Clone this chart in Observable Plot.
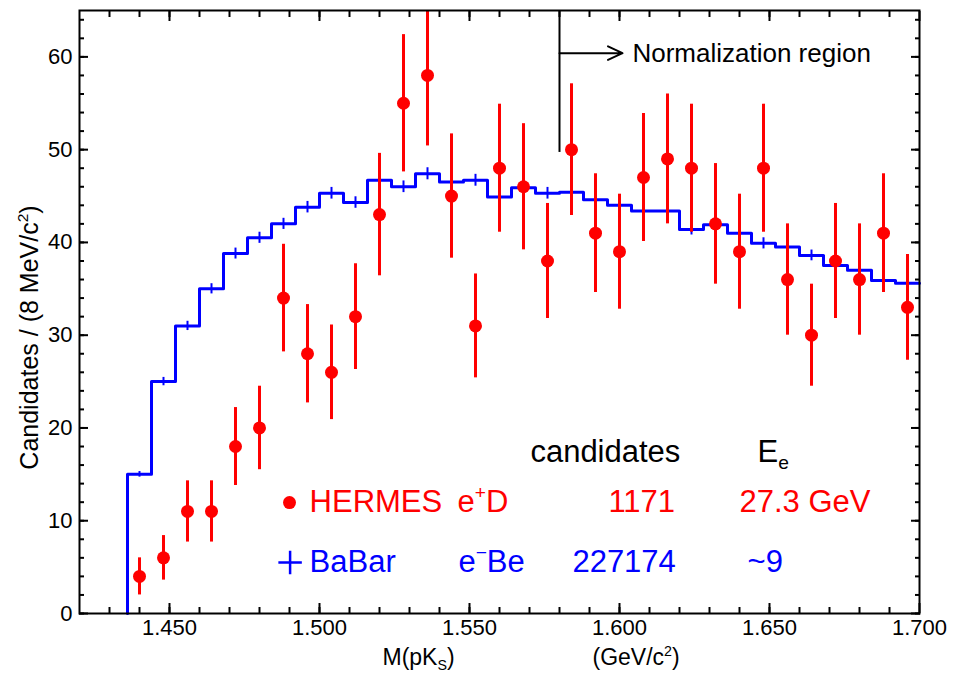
<!DOCTYPE html>
<html><head><meta charset="utf-8">
<script src="https://cdn.jsdelivr.net/npm/d3@7"></script>
<script src="https://cdn.jsdelivr.net/npm/@observablehq/plot@0.6"></script>
<style>html,body{margin:0;padding:0;background:#fff;} #chart{width:954px;height:674px;}</style>
</head><body><div id="chart"></div>
<script>
// ---- data ----
const massBins = [1.440, 1.448, 1.456, 1.464, 1.472, 1.480, 1.488, 1.496, 1.504, 1.512, 1.520,
  1.528, 1.536, 1.544, 1.552, 1.560, 1.568, 1.576, 1.584, 1.592, 1.600, 1.608, 1.616, 1.624,
  1.632, 1.640, 1.648, 1.656, 1.664, 1.672, 1.680, 1.688, 1.696];
const binWidth = 0.008;
const hermesCounts = [4, 6, 11, 11, 18, 20, 34, 28, 26, 32, 43, 55, 58, 45, 31, 48, 46, 38, 50, 41,
  39, 47, 49, 48, 42, 39, 48, 36, 30, 38, 36, 41, 33];
const hermesErrors = [2.0, 2.4, 3.3, 3.3, 4.2, 4.5, 5.8, 5.3, 5.1, 5.7, 6.6, 7.4, 7.6, 6.7, 5.6, 6.9,
  6.8, 6.2, 7.1, 6.4, 6.2, 6.9, 7.0, 6.9, 6.5, 6.2, 6.9, 6.0, 5.5, 6.2, 6.0, 6.4, 5.7];
const babarCounts = [15, 25, 31, 35, 38.8, 40.5, 42, 43.8, 45.3, 44.3, 46.7, 46, 47.4, 46.5, 46.7,
  44.9, 45.9, 45.3, 45.4, 44.6, 44, 43.4, 43.4, 41.4, 41.9, 41, 39.9, 39.5, 38.6, 37.5, 37, 35.9, 35.6];
const babarErrors = [0.3, 0.45, 0.5, 0.55, 0.59, 0.6, 0.6, 0.62, 0.63, 0.62, 0.64, 0.63, 0.65, 0.64,
  0.64, 0.63, 0.63, 0.63, 0.63, 0.62, 0.62, 0.62, 0.62, 0.6, 0.61, 0.6, 0.6, 0.59, 0.58, 0.58, 0.57, 0.56, 0.56];
const xMajorTicks = [1.45, 1.50, 1.55, 1.60, 1.65, 1.70];
const yMajorTicks = [0, 10, 20, 30, 40, 50, 60];
const xDomain = [1.42, 1.70];
const yDomain = [0, 65];
const legendHeaders = ["candidates", "E_{e}"];
const seriesNames = ["HERMES", "BaBar"];
const seriesBeams = ["e^{+}D", "e^{−}Be"];
const seriesCandidates = ["1171", "227174"];
const seriesEnergies = ["27.3 GeV", "~9"];
const normStart = 1.580;
const normLabel = "Normalization region";
const xTitle = ["M(pK_{S})", "(GeV/c^{2})"];
const yTitle = "Candidates / (8 MeV/c^{2})";

// ---- derived tables ----
const rows = massBins.map((m, i) => ({mass: m, hermes: hermesCounts[i], hErr: hermesErrors[i],
  babar: babarCounts[i], bErr: babarErrors[i]}));
const histLine = [{x: massBins[0] - binWidth / 2, y: 0}]
  .concat(rows.map(d => ({x: d.mass - binWidth / 2, y: d.babar})))
  .concat([{x: massBins[massBins.length - 1] + binWidth / 2, y: babarCounts[babarCounts.length - 1]}]);
const xMinorTicks = d3.range(143, 170).map(v => v / 100);
const yMinorTicks = d3.range(0, 66, 2);

const RED = "#ff0000", BLUE = "#0000ff";
const blank = () => "";
const T = (text, x, y, fill, fontSize, extra = {}) =>
  Plot.text([text], {x: () => x, y: () => y, text: d => d, fill, fontSize, textAnchor: "start",
    lineAnchor: "bottom", ...extra});

const chart = Plot.plot({
  width: 954, height: 674,
  marginLeft: 79, marginRight: 35, marginTop: 10, marginBottom: 61,
  style: {fontFamily: "'Liberation Sans', Arial, Helvetica, sans-serif", background: "#fff", color: "#000"},
  x: {domain: xDomain},
  y: {domain: yDomain},
  marks: [
    // axes with inward ticks
    Plot.axisX({anchor: "bottom", ticks: xMajorTicks, tickSize: -10, tickPadding: 16, strokeWidth: 2,
      tickFormat: d3.format(".3f"), fontSize: 22, letterSpacing: "0.6px", label: null}),
    Plot.axisX({anchor: "bottom", ticks: xMinorTicks, tickSize: -6, strokeWidth: 2, tickFormat: blank, label: null}),
    Plot.axisX({anchor: "top", ticks: xMajorTicks, tickSize: -10, strokeWidth: 2, tickFormat: blank, label: null}),
    Plot.axisX({anchor: "top", ticks: xMinorTicks, tickSize: -6, strokeWidth: 2, tickFormat: blank, label: null}),
    Plot.axisY({anchor: "left", ticks: yMajorTicks, tickSize: -9, tickPadding: 16, strokeWidth: 2,
      fontSize: 22, letterSpacing: "0.6px", label: null}),
    Plot.axisY({anchor: "left", ticks: yMinorTicks, tickSize: -5, strokeWidth: 2, tickFormat: blank, label: null}),
    Plot.axisY({anchor: "right", ticks: yMajorTicks, tickSize: -9, strokeWidth: 2, tickFormat: blank, label: null}),
    Plot.axisY({anchor: "right", ticks: yMinorTicks, tickSize: -5, strokeWidth: 2, tickFormat: blank, label: null}),
    // BaBar histogram
    Plot.line(histLine, {x: "x", y: "y", curve: "step-after", stroke: BLUE, strokeWidth: 3}),
    Plot.ruleX(rows, {x: "mass", y1: d => d.babar - d.bErr, y2: d => d.babar + d.bErr, stroke: BLUE, strokeWidth: 2}),
    // HERMES points
    Plot.ruleX(rows, {x: "mass", y1: d => d.hermes - d.hErr, y2: d => d.hermes + d.hErr, stroke: RED, strokeWidth: 3, clip: true}),
    Plot.dot(rows, {x: "mass", y: "hermes", r: 6.5, fill: RED}),
    // normalization region annotation
    Plot.ruleX([normStart], {y1: 49.7, y2: yDomain[1], stroke: "#000", strokeWidth: 2}),
    Plot.arrow([normStart], {x1: d => d, y1: () => 60.4, x2: () => 1.601, y2: () => 60.4, stroke: "#000",
      strokeWidth: 2, headLength: 12, headAngle: 50}),
    T(normLabel, 1.6043, 59.4, "#000", 26),
    // legend
    T(legendHeaders[0], 1.5703, 16.28, "#000", 31),
    T(legendHeaders[1], 1.646, 16.28, "#000", 31),
    Plot.dot([0], {x: () => 1.49, y: () => 11.96, r: 6.5, fill: RED}),
    T(seriesNames[0], 1.4967, 10.89, RED, 31, {letterSpacing: "1px"}),
    T(seriesBeams[0], 1.546, 10.89, RED, 31),
    T(seriesCandidates[0], 1.5963, 10.89, RED, 31),
    T(seriesEnergies[0], 1.64, 10.89, RED, 31),
    Plot.dot([0], {x: () => 1.4902, y: () => 5.5, symbol: "plus", r: 7.6, stroke: BLUE, strokeWidth: 2.5}),
    T(seriesNames[1], 1.4967, 4.42, BLUE, 31),
    T(seriesBeams[1], 1.5463, 4.42, BLUE, 31),
    T(seriesCandidates[1], 1.5843, 4.42, BLUE, 31),
    T(seriesEnergies[1], 1.6427, 4.42, BLUE, 31),
    // axis titles
    T(xTitle[0], 1.521, -5.6, "#000", 23),
    T(xTitle[1], 1.591, -5.6, "#000", 23),
    T(yTitle, 1.4063, 29.75, "#000", 25, {rotate: -90, textAnchor: "middle"}),
    Plot.frame({stroke: "#000", strokeWidth: 2})
  ]
});
document.getElementById("chart").appendChild(chart);

// super/subscripts as tspans
function richify(svg) {
  svg.querySelectorAll("text").forEach(t => {
    const s = t.textContent;
    if (!/[\^_]\{/.test(s)) return;
    const fs = parseFloat(getComputedStyle(t).fontSize);
    t.textContent = "";
    const re = /([\^_])\{([^}]*)\}/g;
    let last = 0, m, shift = 0;
    const add = (str, kind) => {
      const ts = document.createElementNS("http://www.w3.org/2000/svg", "tspan");
      const target = kind === "^" ? -0.42 * fs : kind === "_" ? 0.2 * fs : 0;
      const dy = target - shift; shift = target;
      if (dy) ts.setAttribute("dy", dy);
      if (kind) ts.setAttribute("font-size", 0.62 * fs);
      ts.textContent = str; t.appendChild(ts);
    };
    while ((m = re.exec(s))) {
      if (m.index > last) add(s.slice(last, m.index), null);
      add(m[2], m[1]); last = re.lastIndex;
    }
    if (last < s.length) add(s.slice(last), null);
  });
}
richify(chart);
</script></body></html>
